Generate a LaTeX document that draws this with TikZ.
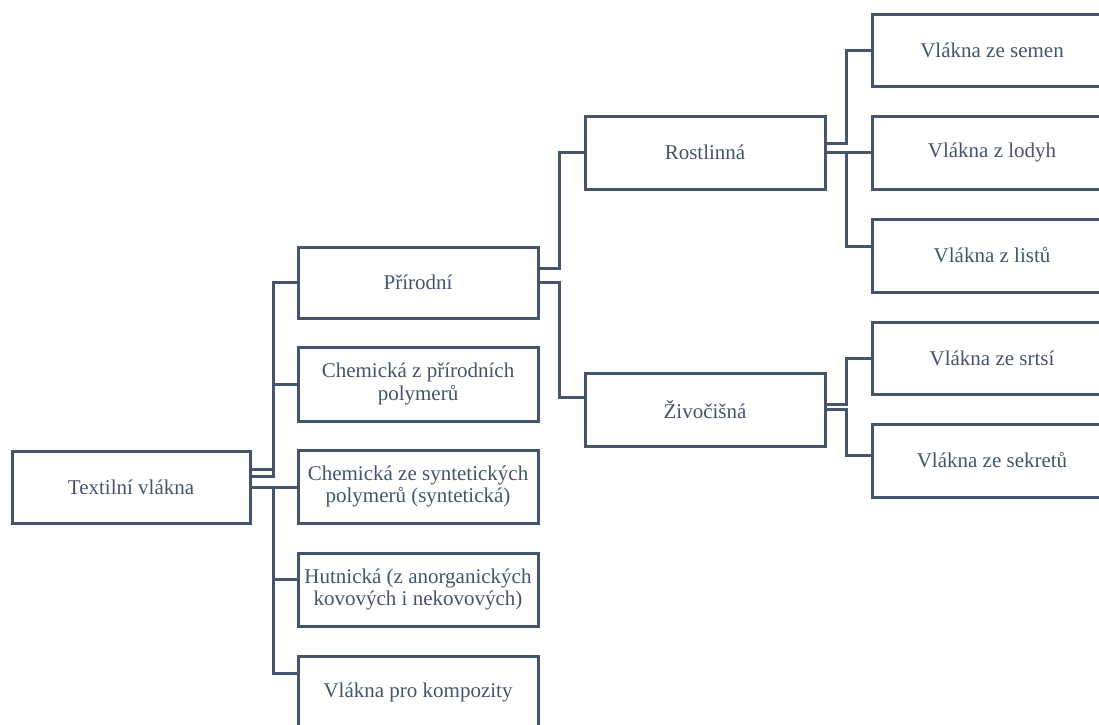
\documentclass[tikz,border=0pt]{standalone}
\usepackage{fontspec}
\setmainfont{Liberation Serif}
\definecolor{dk}{HTML}{44546A}
\begin{document}
\begin{tikzpicture}[x=1pt,y=-1pt,
  box/.style={draw=dk, line width=3pt, minimum width=240pt, minimum height=73pt,
    inner sep=0pt, outer sep=0pt, align=center, text=dk,
    font=\fontsize{21}{22.5}\selectfont},
  link/.style={draw=dk, line width=3pt}]
\useasboundingbox (0,0) rectangle (1099,724);
\clip (0,0) rectangle (1099,724);
% nodes
\node[box, minimum width=238pt, minimum height=72pt] (root) at (131,487) {Textilní vlákna};
\node[box, minimum height=71pt] (A1) at (418,282.5) {Přírodní};
\node[box, minimum height=74pt] (A2) at (418,384) {Chemická z přírodních\\polymerů};
\node[box] (A3) at (418,486.5) {Chemická ze syntetických\\polymerů (syntetická)};
\node[box] (A4) at (418,589.5) {Hutnická (z anorganických\\kovových i nekovových)};
\node[box] (A5) at (418,692.5) {Vlákna pro kompozity};
\node[box] (B1) at (705,152.5) {Rostlinná};
\node[box] (B2) at (705,409.5) {Živočišná};
\node[box, minimum height=72pt] (C1) at (992,50) {Vlákna ze semen};
\node[box] (C2) at (992,152.5) {Vlákna z lodyh};
\node[box] (C3) at (992,255.5) {Vlákna z listů};
\node[box, minimum height=72pt] (C4) at (992,358) {Vlákna ze srtsí};
\node[box] (C5) at (992,460.5) {Vlákna ze sekretů};
% connectors from root
\draw[link] ([yshift=18pt]root.east) -- ++(23,0) |- (A1.west);
\draw[link] ([yshift=11pt]root.east) -- ++(23,0) |- (A2.west);
\draw[link] (root.east) -- (root.east -| A3.west);
\draw[link] (root.east) -- ++(23,0) |- ([yshift=10.5pt]A4.west);
\draw[link] (root.east) -- ++(23,0) |- ([yshift=19.5pt]A5.west);
% from Prirodni
\draw[link] ([yshift=14.5pt]A1.east) -- ++(21,0) |- (B1.west);
\draw[link] (A1.east) -- ++(21,0) |- ([yshift=12.5pt]B2.west);
% from Rostlinna
\draw[link] ([yshift=9.5pt]B1.east) -- ++(21,0) |- (C1.west);
\draw[link] (B1.east) -- (C2.west);
\draw[link] (B1.east) -- ++(21,0) |- ([yshift=9.5pt]C3.west);
% from Zivocisna
\draw[link] ([yshift=5.5pt]B2.east) -- ++(21,0) |- (C4.west);
\draw[link] (B2.east) -- ++(21,0) |- ([yshift=5pt]C5.west);
\end{tikzpicture}
\end{document}
